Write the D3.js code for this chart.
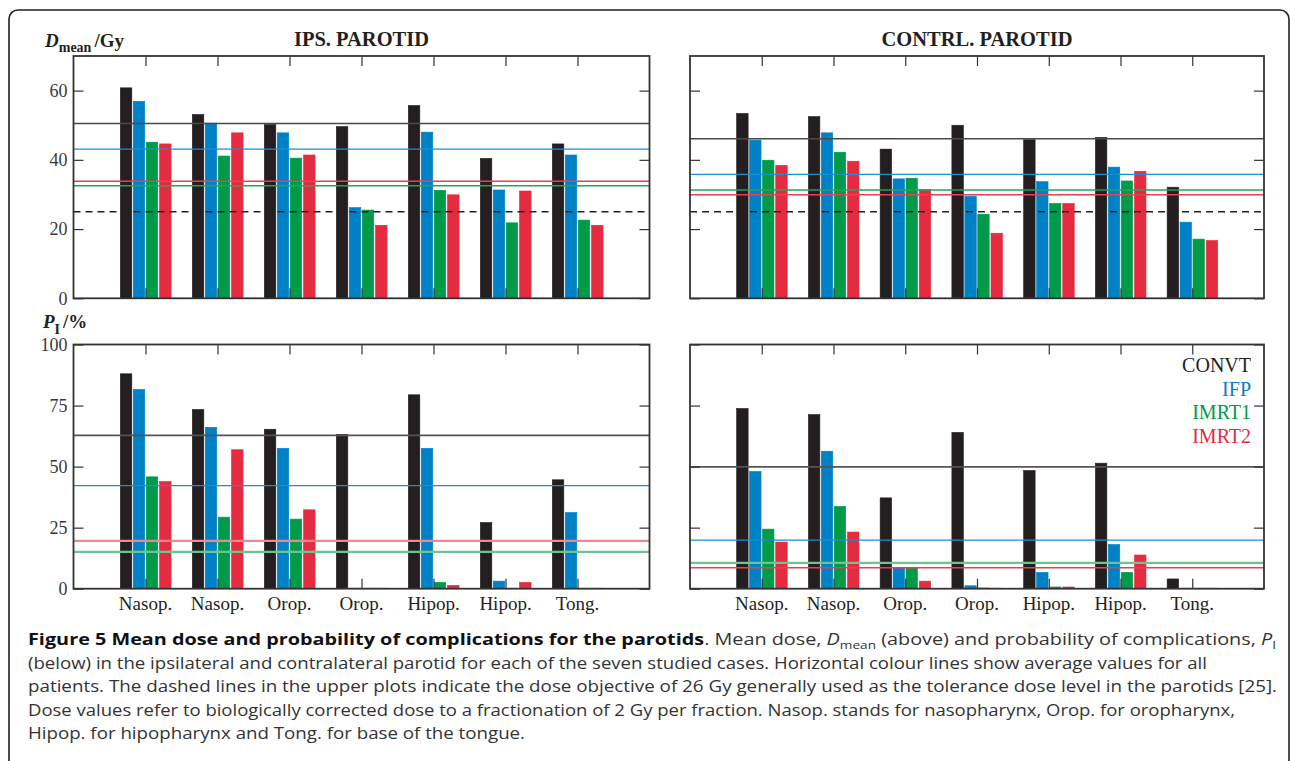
<!DOCTYPE html>
<html>
<head>
<meta charset="utf-8">
<script src="https://cdn.jsdelivr.net/npm/d3@7"></script>
<style>
  html, body { margin: 0; padding: 0; background: #fff; }
  svg { display: block; }
</style>
</head>
<body>
<svg id="chart" width="1290" height="761"></svg>
<script>
// ---------------- DATA ----------------
const categories = ["Nasop.", "Nasop.", "Orop.", "Orop.", "Hipop.", "Hipop.", "Tong."];
const seriesNames = ["CONVT", "IFP", "IMRT1", "IMRT2"];
const seriesColors = ["#231f20", "#0081c6", "#009a49", "#e42b3f"];

// Mean dose (Gy), ipsilateral parotid
const ipsDoseConvt = [60.8, 53.1, 50.2, 49.6, 55.7, 40.4, 44.6];
const ipsDoseIfp   = [56.9, 50.6, 47.8, 26.2, 48.0, 31.3, 41.4];
const ipsDoseImrt1 = [45.1, 41.1, 40.5, 25.5, 31.2, 21.8, 22.6];
const ipsDoseImrt2 = [44.6, 47.8, 41.4, 21.1, 29.9, 31.0, 21.1];
const ipsDoseAvg   = [50.5, 43.1, 32.5, 33.8];

// Mean dose (Gy), contralateral parotid
const conDoseConvt = [53.4, 52.5, 43.1, 50.0, 45.8, 46.5, 32.1];
const conDoseIfp   = [45.7, 47.8, 34.5, 29.5, 33.7, 37.9, 22.0];
const conDoseImrt1 = [39.9, 42.2, 34.7, 24.3, 27.4, 33.9, 17.1];
const conDoseImrt2 = [38.4, 39.6, 31.4, 18.8, 27.4, 36.7, 16.7];
const conDoseAvg   = [46.1, 35.8, 31.3, 29.9];

// Probability of complications (%), ipsilateral parotid
const ipsNtcpConvt = [88.0, 73.4, 65.3, 63.2, 79.4, 27.1, 44.6];
const ipsNtcpIfp   = [81.6, 66.1, 57.5, 0.2, 57.5, 3.1, 31.2];
const ipsNtcpImrt1 = [45.8, 29.3, 28.5, 0.2, 2.6, 0.2, 0.2];
const ipsNtcpImrt2 = [43.9, 56.9, 32.3, 0.2, 1.4, 2.6, 0.2];
const ipsNtcpAvg   = [62.8, 42.2, 15.1, 19.6];

// Probability of complications (%), contralateral parotid
const conNtcpConvt = [73.8, 71.3, 37.2, 64.0, 48.4, 51.4, 4.0];
const conNtcpIfp   = [48.0, 56.3, 8.6, 1.2, 6.7, 18.1, 0.2];
const conNtcpImrt1 = [24.4, 33.7, 8.6, 0.3, 0.7, 6.7, 0.2];
const conNtcpImrt2 = [19.1, 23.2, 3.1, 0.2, 0.7, 13.8, 0.2];
const conNtcpAvg   = [49.9, 19.9, 10.6, 8.6];

const doseObjective = 25;
const doseTicks = [0, 20, 40, 60];
const ntcpTicks = [0, 25, 50, 75, 100];

// ---------------- DRAW ----------------
const svg = d3.select("#chart");
const serif = "'Liberation Serif', 'Times New Roman', serif";

// outer rounded border
svg.append("rect")
  .attr("x", 9).attr("y", 10).attr("width", 1280).attr("height", 800)
  .attr("rx", 9).attr("ry", 9)
  .attr("fill", "none").attr("stroke", "#231f20").attr("stroke-width", 1.6);

const barOffsets = [-0.27, -0.09, 0.09, 0.275];
const barWidth = 0.16;

function drawPanel(cfg) {
  const g = svg.append("g");
  const x = d3.scaleLinear().domain([0, 8]).range([cfg.x0, cfg.x1]);
  const y = d3.scaleLinear().domain(cfg.yDomain).range([cfg.y1, cfg.y0]);

  // bars
  cfg.series.forEach((vals, si) => {
    g.selectAll(null).data(vals).enter().append("rect")
      .attr("x", (d, i) => x(i + 1 + barOffsets[si] - barWidth / 2))
      .attr("width", x(barWidth) - x(0))
      .attr("y", d => y(d))
      .attr("height", d => y(0) - y(d))
      .attr("fill", seriesColors[si])
      .attr("stroke", seriesColors[si])
      .attr("stroke-width", 0.6);
  });

  // average lines
  cfg.avg.forEach((v, si) => {
    g.append("line")
      .attr("x1", cfg.x0).attr("x2", cfg.x1)
      .attr("y1", y(v)).attr("y2", y(v))
      .attr("stroke", cfg.avgColors[si])
      .attr("stroke-width", cfg.avgWidths[si]);
  });

  // dashed tolerance line
  if (cfg.dashed != null) {
    g.append("line")
      .attr("x1", cfg.x0).attr("x2", cfg.x1)
      .attr("y1", y(cfg.dashed)).attr("y2", y(cfg.dashed))
      .attr("stroke", "#231f20").attr("stroke-width", 1.5)
      .attr("stroke-dasharray", "7,5");
  }

  // axes: ticks inward on all sides
  const tickLen = 10;
  const cats = d3.range(1, 8);
  const axB = d3.axisBottom(x).tickValues(cats).tickSize(-tickLen).tickFormat("");
  const axT = d3.axisTop(x).tickValues(cats).tickSize(-tickLen).tickFormat("");
  const axL = d3.axisLeft(y).tickValues(cfg.yTicks).tickSize(-tickLen)
    .tickFormat(cfg.showYLabels ? d3.format("d") : "").tickPadding(6);
  const axR = d3.axisRight(y).tickValues(cfg.yTicks).tickSize(-tickLen).tickFormat("");

  function styleAxis(sel) {
    sel.select(".domain").remove();
    sel.selectAll(".tick line").attr("stroke", "#333").attr("stroke-width", 1.2);
    sel.selectAll(".tick text")
      .attr("font-family", serif).attr("font-size", 18).attr("fill", "#3a3a3a");
  }
  g.append("g").attr("transform", `translate(0,${cfg.y1})`).call(axB).call(styleAxis);
  g.append("g").attr("transform", `translate(0,${cfg.y0})`).call(axT).call(styleAxis);
  g.append("g").attr("transform", `translate(${cfg.x0},0)`).call(axL).call(styleAxis);
  g.append("g").attr("transform", `translate(${cfg.x1},0)`).call(axR).call(styleAxis);

  // frame
  g.append("rect")
    .attr("x", cfg.x0).attr("y", cfg.y0)
    .attr("width", cfg.x1 - cfg.x0).attr("height", cfg.y1 - cfg.y0)
    .attr("fill", "none").attr("stroke", "#333").attr("stroke-width", 1.8);

  // category labels
  if (cfg.showCats) {
    g.selectAll(null).data(categories).enter().append("text")
      .attr("x", (d, i) => x(i + 1))
      .attr("y", cfg.y1 + 21)
      .attr("text-anchor", "middle")
      .attr("font-family", serif).attr("font-size", 19).attr("fill", "#231f20")
      .text(d => d);
  }

  // title
  if (cfg.title) {
    g.append("text")
      .attr("x", (cfg.x0 + cfg.x1) / 2).attr("y", 46)
      .attr("text-anchor", "middle")
      .attr("font-family", serif).attr("font-weight", "bold").attr("font-size", 20.5)
      .attr("fill", "#231f20")
      .text(cfg.title);
  }
  return { x, y };
}

const L = { x0: 73.5, x1: 649.5 };
const R = { x0: 690, x1: 1264 };
const TOP = { y0: 56, y1: 298.3 };
const BOT = { y0: 344.5, y1: 588.7 };

const stdAvgColors = ["#4a4a4a", "#1a8fd3", "#21a55a", "#e8404f"];
const stdAvgWidths = [1.5, 1.4, 1.4, 1.4];

drawPanel({ ...L, ...TOP, yDomain: [0, 70], yTicks: doseTicks, showYLabels: true,
  series: [ipsDoseConvt, ipsDoseIfp, ipsDoseImrt1, ipsDoseImrt2],
  avg: ipsDoseAvg, avgColors: stdAvgColors, avgWidths: stdAvgWidths,
  dashed: doseObjective, title: "IPS. PAROTID", showCats: false });

drawPanel({ ...R, ...TOP, yDomain: [0, 70], yTicks: doseTicks, showYLabels: false,
  series: [conDoseConvt, conDoseIfp, conDoseImrt1, conDoseImrt2],
  avg: conDoseAvg, avgColors: stdAvgColors, avgWidths: stdAvgWidths,
  dashed: doseObjective, title: "CONTRL. PAROTID", showCats: false });

drawPanel({ ...L, ...BOT, yDomain: [0, 100], yTicks: ntcpTicks, showYLabels: true,
  series: [ipsNtcpConvt, ipsNtcpIfp, ipsNtcpImrt1, ipsNtcpImrt2],
  avg: ipsNtcpAvg, avgColors: ["#555", "#1a8fd3", "#6cc58e", "#ef8791"],
  avgWidths: [1.6, 1.4, 2.2, 2.2],
  dashed: null, title: null, showCats: true });

drawPanel({ ...R, ...BOT, yDomain: [0, 100], yTicks: ntcpTicks, showYLabels: false,
  series: [conNtcpConvt, conNtcpIfp, conNtcpImrt1, conNtcpImrt2],
  avg: conNtcpAvg, avgColors: ["#555", "#1a8fd3", "#6cc58e", "#e8404f"],
  avgWidths: [1.6, 1.4, 2.2, 1.4],
  dashed: null, title: null, showCats: true });

// legend
const legendY = [372, 395.5, 419, 442.5];
svg.append("g").selectAll("text").data(seriesNames).enter().append("text")
  .attr("x", 1251).attr("y", (d, i) => legendY[i])
  .attr("text-anchor", "end")
  .attr("font-family", serif).attr("font-size", 20)
  .attr("fill", (d, i) => seriesColors[i])
  .text(d => d);

// y-axis labels
const yl1 = svg.append("text").attr("x", 45).attr("y", 47)
  .attr("font-family", serif).attr("font-weight", "bold").attr("font-size", 19).attr("fill", "#231f20");
yl1.append("tspan").attr("font-style", "italic").text("D");
yl1.append("tspan").attr("font-size", 14).attr("dy", 5).text("mean");
yl1.append("tspan").attr("dy", -5).attr("dx", 3).text("/Gy");

const yl2 = svg.append("text").attr("x", 43).attr("y", 328)
  .attr("font-family", serif).attr("font-weight", "bold").attr("font-size", 19).attr("fill", "#231f20");
yl2.append("tspan").attr("font-style", "italic").text("P");
yl2.append("tspan").attr("font-size", 14).attr("dy", 6).text("I");
yl2.append("tspan").attr("dy", -6).attr("dx", 3).text("/%");

// caption
const capFont = "'Open Sans', 'Noto Sans', sans-serif";
const capX = 28;
const capBase = [645, 668.5, 692, 715.5, 739];
const capWidths = [1248, 1179, 1249, 1207, 497];

function capLine(i) {
  return svg.append("text")
    .attr("x", capX).attr("y", capBase[i])
    .attr("font-family", capFont).attr("font-size", 16).attr("fill", "#333")
    .attr("textLength", capWidths[i]).attr("lengthAdjust", "spacingAndGlyphs");
}
const c1 = capLine(0);
c1.append("tspan").attr("font-weight", "bold").attr("fill", "#111")
  .text("Figure 5 Mean dose and probability of complications for the parotids");
c1.append("tspan").text(". Mean dose, ");
c1.append("tspan").attr("font-style", "italic").text("D");
c1.append("tspan").attr("font-size", 11).attr("dy", 4).text("mean");
c1.append("tspan").attr("dy", -4).text(" (above) and probability of complications, ");
c1.append("tspan").attr("font-style", "italic").text("P");
c1.append("tspan").attr("font-size", 11).attr("dy", 4).text("I");

capLine(1).text("(below) in the ipsilateral and contralateral parotid for each of the seven studied cases. Horizontal colour lines show average values for all");
capLine(2).text("patients. The dashed lines in the upper plots indicate the dose objective of 26 Gy generally used as the tolerance dose level in the parotids [25].");
capLine(3).text("Dose values refer to biologically corrected dose to a fractionation of 2 Gy per fraction. Nasop. stands for nasopharynx, Orop. for oropharynx,");
capLine(4).text("Hipop. for hipopharynx and Tong. for base of the tongue.");
</script>
</body>
</html>
